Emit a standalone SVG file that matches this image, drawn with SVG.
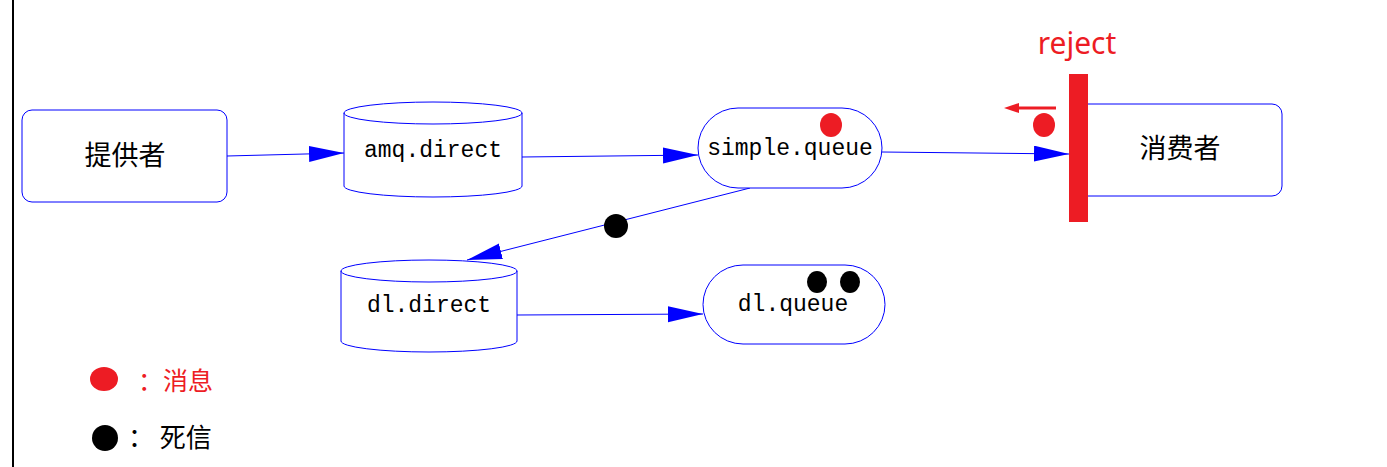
<svg xmlns="http://www.w3.org/2000/svg" width="1387" height="467" viewBox="0 0 1387 467">
<style>
.node{fill:#fff;stroke:#0000ff;stroke-width:1}
.edge{stroke:#0000ff;stroke-width:1;fill:none}
.mono{font-family:"Liberation Mono","DejaVu Sans Mono",monospace;font-size:23px;fill:#000}
.cjk{font-family:"Noto Sans CJK SC",sans-serif;font-size:27px;fill:#000}
.red{fill:#ED1C24}
</style>
<defs>
<marker id="arr" markerUnits="userSpaceOnUse" markerWidth="36" markerHeight="18" refX="35" refY="8" orient="auto">
<path d="M0,0 L35,8 L0,16 z" fill="#0000ff"/>
</marker>
</defs>
<rect width="1387" height="467" fill="#fff"/>
<line x1="13" y1="0" x2="13" y2="467" stroke="#000" stroke-width="2"/>
<g id="connectors">
<line class="edge" x1="227" y1="156" x2="344" y2="153" marker-end="url(#arr)"/>
<line class="edge" x1="522" y1="157" x2="698" y2="155" marker-end="url(#arr)"/>
<line class="edge" x1="882" y1="152" x2="1069" y2="154" marker-end="url(#arr)"/>
<line class="edge" x1="750" y1="188" x2="467" y2="260" marker-end="url(#arr)"/>
<line class="edge" x1="517" y1="315" x2="703" y2="314" marker-end="url(#arr)"/>
</g>
<g id="provider">
<rect class="node" x="22" y="110" width="205" height="92" rx="10"/>
<text class="cjk" x="125" y="165" text-anchor="middle">提供者</text>
</g>
<g id="amq-direct">
<path class="node" d="M344,113 A89,11 0 0,1 522,113 A89,11 0 0,1 344,113 Z M344,113 L344,186 A89,11 0 0,0 522,186 L522,113"/>
<text class="mono" x="433" y="157" text-anchor="middle">amq.direct</text>
</g>
<g id="simple-queue">
<rect class="node" x="698" y="108" width="184" height="80" rx="40"/>
<text class="mono" x="790" y="155" text-anchor="middle">simple.queue</text>
<ellipse class="red" cx="831" cy="125" rx="11" ry="12"/>
</g>
<g id="consumer">
<rect class="node" x="1070" y="104" width="212" height="92" rx="10"/>
<text class="cjk" x="1180" y="158" text-anchor="middle">消费者</text>
<rect class="red" x="1069" y="74" width="19" height="148"/>
<text x="1077" y="54" text-anchor="middle" font-family="Noto Sans,sans-serif" font-size="30" class="red">reject</text>
<line x1="1056" y1="108" x2="1016" y2="108" stroke="#ED1C24" stroke-width="3"/>
<path class="red" d="M1004,108 L1019,103 L1019,113 z"/>
<ellipse class="red" cx="1044" cy="125" rx="11" ry="12"/>
</g>
<g id="dl-direct">
<path class="node" d="M341,271 A88,11 0 0,1 517,271 A88,11 0 0,1 341,271 Z M341,271 L341,341 A88,11 0 0,0 517,341 L517,271"/>
<text class="mono" x="429" y="312" text-anchor="middle">dl.direct</text>
</g>
<g id="dl-queue">
<rect class="node" x="703" y="265" width="182" height="79" rx="40"/>
<text class="mono" x="793" y="311" text-anchor="middle">dl.queue</text>
<ellipse cx="817" cy="282" rx="10" ry="11" fill="#000"/>
<ellipse cx="850" cy="282" rx="10" ry="11" fill="#000"/>
</g>
<circle cx="616" cy="226" r="12" fill="#000"/>
<g id="legend">
<ellipse class="red" cx="104" cy="379" rx="14" ry="12"/>
<text x="138" y="390" font-family="Noto Sans CJK SC,sans-serif" font-size="25" class="red">：消息</text>
<circle cx="105" cy="438" r="13" fill="#000"/>
<text x="128" y="447" font-family="Noto Sans CJK SC,sans-serif" font-size="26" fill="#000">：  死信</text>
</g>
</svg>
